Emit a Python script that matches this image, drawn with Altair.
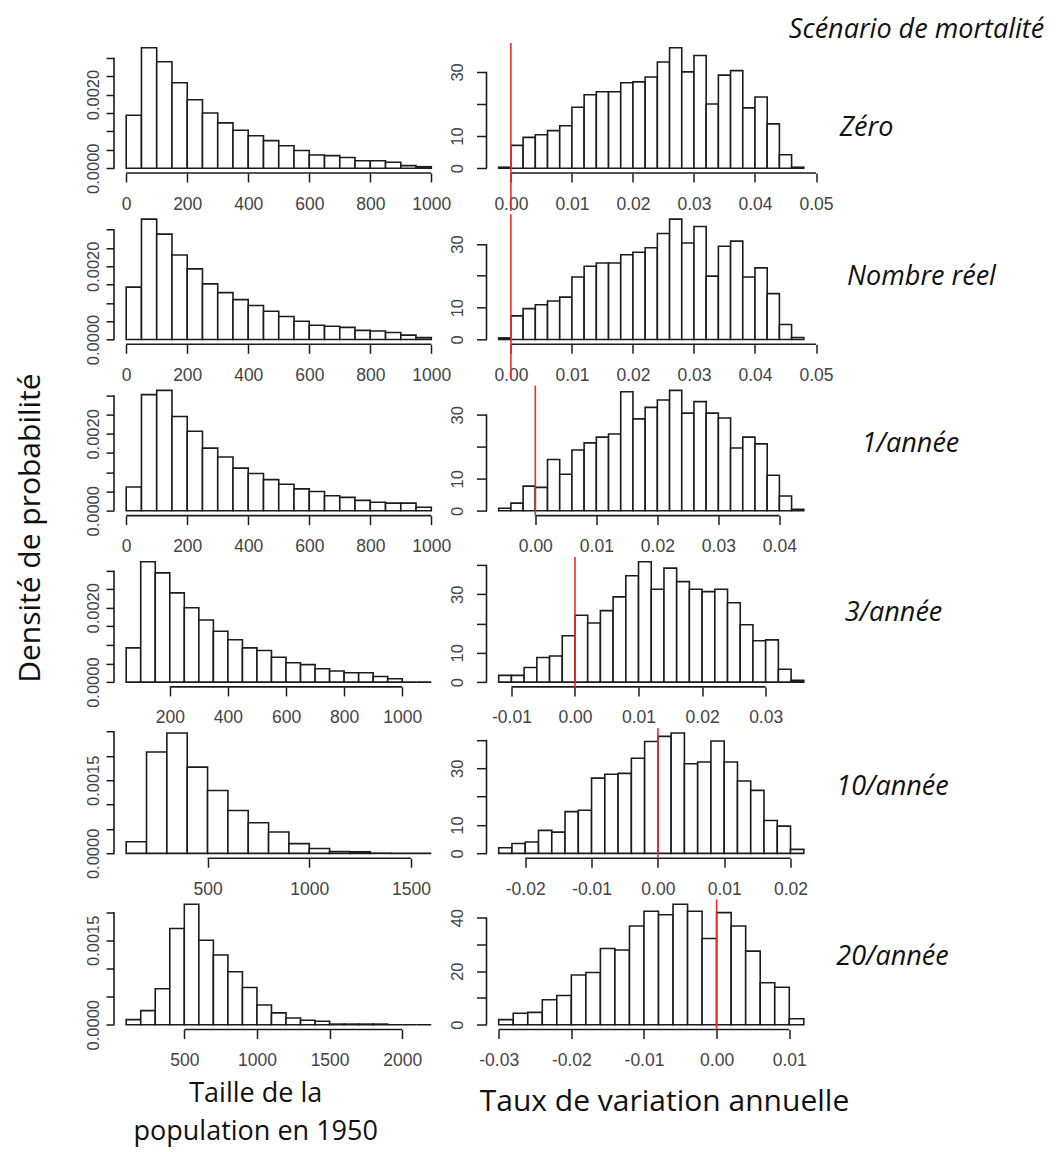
import altair as alt
import pandas as pd

# ---------------- data ----------------
SCENARIOS = ["Zéro", "Nombre réel", "1/année", "3/année", "10/année", "20/année"]

# left column: population size in 1950 (density per bin)
SIZE_BIN_START = [0, 0, 0, 50, 100, 100]
SIZE_BIN_WIDTH = [50, 50, 50, 50, 100, 100]
SIZE_ZERO = [0.00144, 0.00327, 0.00289, 0.00232, 0.00186, 0.00150, 0.00123, 0.00103, 0.00088, 0.00075,
             0.00061, 0.00048, 0.00036, 0.00034, 0.00029, 0.00020, 0.00020, 0.00016, 0.00007, 0.00004]
SIZE_REEL = [0.00143, 0.00329, 0.00288, 0.00231, 0.00193, 0.00152, 0.00128, 0.00109, 0.00093, 0.00077,
             0.00063, 0.00050, 0.00039, 0.00036, 0.00033, 0.00025, 0.00023, 0.00019, 0.00012, 0.00005]
SIZE_UN = [0.00062, 0.00302, 0.00313, 0.00245, 0.00207, 0.00163, 0.00140, 0.00111, 0.00097, 0.00081,
           0.00069, 0.00057, 0.00050, 0.00039, 0.00035, 0.00027, 0.00022, 0.00020, 0.00020, 0.00009]
SIZE_TROIS = [0.00092, 0.00324, 0.00294, 0.00240, 0.00200, 0.00167, 0.00137, 0.00114, 0.00092, 0.00085,
              0.00067, 0.00052, 0.00047, 0.00036, 0.00030, 0.00025, 0.00025, 0.00015, 0.00009, 0.0, 0.0]
SIZE_DIX = [0.00024, 0.00208, 0.00247, 0.00177, 0.00129, 0.00088, 0.00063, 0.00044, 0.00020, 0.00010,
            0.00004, 0.00003, 0.000005, 0.0, 0.0]
SIZE_VINGT = [0.00009, 0.00025, 0.00064, 0.00171, 0.00214, 0.00150, 0.00124, 0.00094, 0.00066, 0.00035,
              0.00021, 0.00012, 0.00008, 0.00006, 0.00001, 0.00001, 0.00001, 0.00001, 0.0, 0.0, 0.0]
SIZE_DENS = [SIZE_ZERO, SIZE_REEL, SIZE_UN, SIZE_TROIS, SIZE_DIX, SIZE_VINGT]

# right column: annual rate of change (density per bin)
RATE_BIN_START = [-0.002, -0.002, -0.006, -0.012, -0.024, -0.030]
RATE_BIN_WIDTH = 0.002
RATE_ZERO = [0.3, 7.1, 9.6, 10.4, 11.7, 13.2, 19.0, 22.9, 23.8, 23.8, 26.6, 26.9, 28.4, 33.1, 37.5,
             30.0, 35.1, 20.0, 29.0, 30.4, 18.8, 22.2, 13.8, 4.2, 0.3]
RATE_REEL = [0.5, 7.4, 9.7, 10.9, 12.1, 13.3, 19.6, 23.0, 24.0, 24.0, 26.6, 27.4, 28.8, 33.3, 37.8,
             30.3, 35.5, 19.9, 29.3, 30.9, 19.6, 22.5, 14.4, 4.7, 0.6]
RATE_UN = [0.8, 2.4, 7.7, 7.3, 16.0, 11.4, 19.0, 21.2, 23.0, 24.0, 37.2, 28.7, 32.3, 34.6, 37.6,
           30.5, 34.1, 30.5, 29.0, 19.6, 23.0, 20.9, 11.1, 4.6, 0.5]
RATE_TROIS = [2.3, 2.3, 5.0, 8.4, 8.9, 15.8, 22.8, 20.2, 24.4, 29.1, 36.3, 41.1, 31.7, 38.9, 34.3,
              31.7, 30.9, 31.7, 27.1, 19.6, 14.1, 14.4, 4.4, 0.6]
RATE_DIX = [2.0, 3.5, 4.0, 8.1, 7.5, 14.7, 15.2, 26.5, 27.9, 28.2, 33.5, 39.4, 41.2, 42.4, 31.6,
            32.2, 39.6, 32.2, 25.5, 22.2, 11.6, 9.6, 1.4]
RATE_VINGT = [1.9, 4.3, 4.6, 9.3, 10.9, 18.6, 19.5, 28.5, 27.9, 36.9, 42.4, 41.1, 45.0, 42.4, 32.2,
              41.9, 36.9, 27.5, 15.7, 14.0, 2.2]
RATE_DENS = [RATE_ZERO, RATE_REEL, RATE_UN, RATE_TROIS, RATE_DIX, RATE_VINGT]
RED_LINE_AT = [0.0, 0.0, 0.0, 0.0, 0.0, 0.0]

# tick values and shown labels
SIZE_XTICKS = [[0, 200, 400, 600, 800, 1000]] * 3 + [[200, 400, 600, 800, 1000], [500, 1000, 1500],
                                                     [500, 1000, 1500, 2000]]
SIZE_YTICKS = [[0, 0.0005, 0.001, 0.0015, 0.002, 0.0025, 0.003]] * 4 + [
    [0, 0.0005, 0.001, 0.0015, 0.002, 0.0025], [0, 0.0005, 0.001, 0.0015, 0.002]]
SIZE_YLABELS = [[0, 0.002]] * 4 + [[0, 0.0015]] * 2
RATE_XTICKS = [[0, 0.01, 0.02, 0.03, 0.04, 0.05]] * 2 + [[0, 0.01, 0.02, 0.03, 0.04],
                                                        [-0.01, 0, 0.01, 0.02, 0.03],
                                                        [-0.02, -0.01, 0, 0.01, 0.02],
                                                        [-0.03, -0.02, -0.01, 0, 0.01]]
RATE_YTICKS = [[0, 10, 20, 30]] * 3 + [[0, 10, 20, 30, 40]] * 3
RATE_YLABELS = [[0, 10, 30]] * 5 + [[0, 20, 40]]

TITLE_TOP = "Scénario de mortalité"
TITLE_LEFT = "Densité de probabilité"
TITLE_BOTTOM_LEFT = ["Taille de la", "population en 1950"]
TITLE_BOTTOM_RIGHT = "Taux de variation annuelle"

# ---------------- layout / style ----------------
W, H = 329.5, 130
ROW_GAP, COL_GAP = 41.3, 42.5
INK = "#1c1c1c"
LABEL_INK = "#444444"
RED = "#ee2b2b"
TICK_FONT = "Liberation Sans"
TEXT_FONT = "Open Sans"
SC_X = [380, 435, 424, 407, 406, 406]
SC_Y = [85, 63, 58, 56, 59, 57]
RED_EXT = [38, 34, 0, 0, 0, 0]


def pick_expr(show, fmt):
    cond = " || ".join(f"abs(datum.value - ({v})) < 1e-9" for v in show)
    return f"({cond}) ? {fmt} : ''"


def x_axis(ticks, expr):
    return alt.Axis(values=ticks, domain=False, grid=False, tickSize=9, tickWidth=1.5, tickColor=INK,
                    labelFont=TICK_FONT, labelFontSize=17.5, labelColor=LABEL_INK, labelPadding=13,
                    labelFlush=False, labelOverlap=False, labelBound=False, labelExpr=expr, title=None)


def y_axis(ticks, expr, tick_size, pad):
    return alt.Axis(values=ticks, domain=False, grid=False, tickSize=tick_size, tickWidth=1.5,
                    tickColor=INK, labelFont=TICK_FONT, labelFontSize=16.5, labelColor=LABEL_INK,
                    labelPadding=pad, labelAngle=270, labelAlign="center", labelBaseline="bottom",
                    labelFlush=False, labelOverlap=False, labelBound=False, labelExpr=expr, title=None)


def text_layer(txt, x, y, size, italic=False, angle=0):
    kw = dict(font=TEXT_FONT, fontSize=size, color="#111111", align="center", baseline="middle")
    if italic:
        kw["fontStyle"] = "italic"
    if angle:
        kw["angle"] = angle
    return alt.Chart(pd.DataFrame({"t": [txt]})).mark_text(**kw).encode(
        text="t:N", x=alt.value(x), y=alt.value(y))


def histogram(starts, ends, dens, xticks, yticks, xexpr, yexpr, ytick_size, ypad):
    lo, hi = starts[0], ends[-1]
    r = hi - lo
    m = max(dens)
    xs = alt.Scale(domain=[lo - 0.04 * r, hi + 0.04 * r], nice=False, zero=False)
    ys = alt.Scale(domain=[-0.04 * m, 1.04 * m], nice=False, zero=False)
    xa = x_axis(xticks, xexpr)
    ya = y_axis(yticks, yexpr, ytick_size, ypad)
    df = pd.DataFrame({"x0": starts, "x1": ends, "d": dens, "base": [0.0] * len(dens)})
    bars = alt.Chart(df).mark_rect(fill="white", stroke=INK, strokeWidth=1.6).encode(
        x=alt.X("x0:Q", scale=xs, axis=xa),
        x2="x1:Q",
        y=alt.Y("d:Q", scale=ys, axis=ya),
        y2="base:Q",
    )
    xline = alt.Chart(pd.DataFrame({"a": [xticks[0]], "b": [xticks[-1]]})).mark_rule(
        color=INK, strokeWidth=1.6).encode(
        x=alt.X("a:Q", scale=xs, axis=xa), x2="b:Q", y=alt.value(H))
    yline = alt.Chart(pd.DataFrame({"a": [yticks[0]], "b": [yticks[-1]]})).mark_rule(
        color=INK, strokeWidth=1.6).encode(
        y=alt.Y("a:Q", scale=ys, axis=ya), y2="b:Q", x=alt.value(0))
    return [bars, xline, yline], xs, xa


panels = []
for r in range(6):
    # left: population size
    n = len(SIZE_DENS[r])
    s = [SIZE_BIN_START[r] + i * SIZE_BIN_WIDTH[r] for i in range(n)]
    e = [v + SIZE_BIN_WIDTH[r] for v in s]
    layers, _, _ = histogram(s, e, SIZE_DENS[r], SIZE_XTICKS[r], SIZE_YTICKS[r],
                             "format(datum.value, 'd')",
                             pick_expr(SIZE_YLABELS[r], "format(datum.value, '.4f')"), 8, 5)
    if r == 2:
        layers.append(text_layer(TITLE_LEFT, -83, 142.5, 30, angle=270))
    if r == 5:
        layers.append(text_layer(TITLE_BOTTOM_LEFT[0], 141.7, 194, 27))
        layers.append(text_layer(TITLE_BOTTOM_LEFT[1], 141.7, 232, 27))
    panels.append(alt.layer(*layers).properties(width=W, height=H))

    # right: annual rate of change
    n = len(RATE_DENS[r])
    s = [round(RATE_BIN_START[r] + i * RATE_BIN_WIDTH, 6) for i in range(n)]
    e = [round(v + RATE_BIN_WIDTH, 6) for v in s]
    layers, xs, xa = histogram(s, e, RATE_DENS[r], RATE_XTICKS[r], RATE_YTICKS[r],
                               "replace(format(datum.value, '.2f'), '\u2212', '-')",
                               pick_expr(RATE_YLABELS[r], "format(datum.value, 'd')"), 10, 11)
    red = alt.Chart(pd.DataFrame({"v": [RED_LINE_AT[r]]})).mark_rule(color=RED, strokeWidth=1.6).encode(
        x=alt.X("v:Q", scale=xs, axis=xa), y=alt.value(0), y2=alt.value(H + RED_EXT[r]))
    layers.append(red)
    layers.append(text_layer(SCENARIOS[r], SC_X[r], SC_Y[r], 27, italic=True))
    if r == 0:
        layers.append(text_layer(TITLE_TOP, 430, -13, 27, italic=True))
    if r == 5:
        layers.append(text_layer(TITLE_BOTTOM_RIGHT, 178, 202, 30))
    panels.append(alt.layer(*layers).properties(width=W, height=H))

chart = alt.ConcatChart(
    concat=panels, columns=2, bounds="flush",
    spacing={"row": ROW_GAP, "column": COL_GAP},
).properties(
    padding={"left": 7, "top": 8, "right": 6, "bottom": 4},
    background="white",
).configure_view(stroke=None)

chart.save("out.html", embed_options={"renderer": "svg", "actions": False})
